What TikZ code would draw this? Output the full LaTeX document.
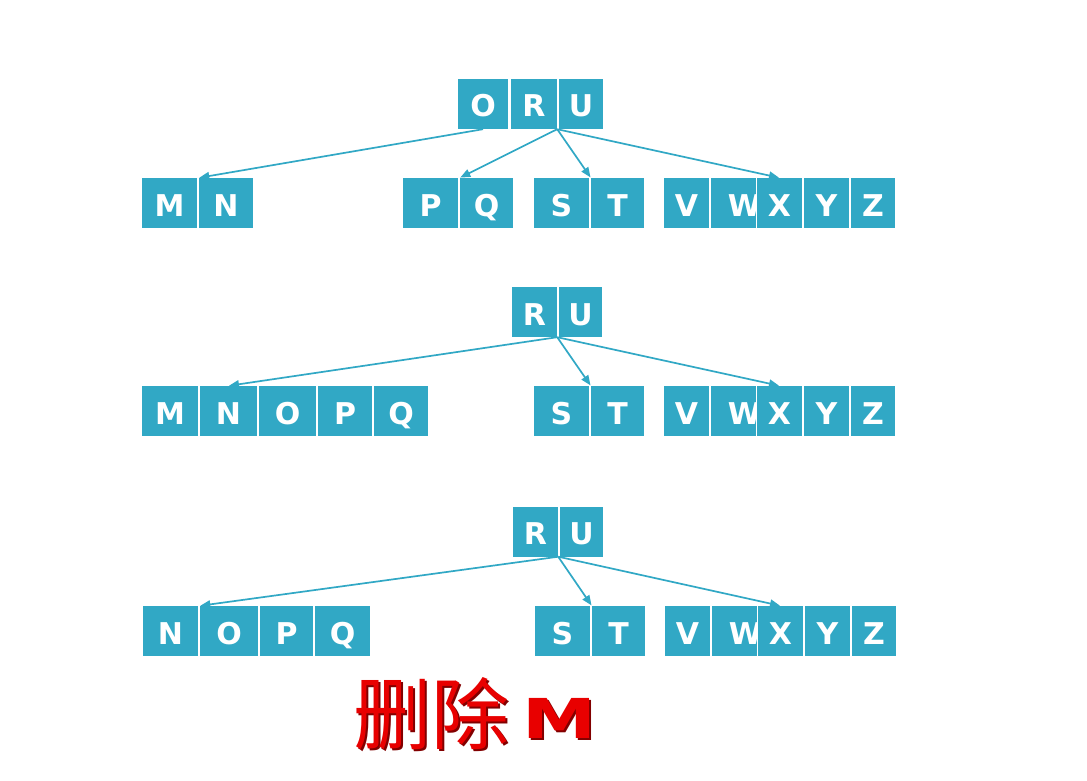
\documentclass[tikz,border=0pt]{standalone}
\usepackage{fontspec}
\usetikzlibrary{arrows.meta}
\newfontfamily\cellfont{DejaVu Sans}
\newfontfamily\cjk{Noto Sans CJK SC}
\definecolor{cellblue}{RGB}{49,168,197}
\definecolor{capred}{RGB}{232,0,0}
\definecolor{capshade}{RGB}{130,0,0}
% one key cell: name, centre x, centre y, width, letter
\newcommand\mkcell[5]{\node[cell, minimum width=#4pt] (#1) at (#2,#3) {#5};}
% W is set wide and slips under the X cell drawn after it
\newcommand\wideW{\makebox[0pt]{\hspace*{22pt}W}}
\begin{document}
\begin{tikzpicture}[x=1pt,y=-1pt,
  cell/.style={fill=cellblue, inner sep=0pt, minimum height=50pt, text=white,
    font=\cellfont\bfseries\fontsize{30}{30}\selectfont, text height=26pt, text depth=0pt},
  link/.style={draw=cellblue, line width=1.7pt, shorten >=0.5pt,
    -{Triangle[length=10pt,width=8pt]}},
  caption/.style={inner sep=0pt, anchor=center}]
\fill[white] (0,0) rectangle (1087,781);
\useasboundingbox (0,0) rectangle (1087,781);

% ---- tree before the deletion ----
\mkcell{aO}{483}{104}{50}{O}
\mkcell{aR}{534}{104}{46}{R}
\mkcell{aU}{581}{104}{44}{U}
\mkcell{aM}{169.5}{203}{55}{M}
\mkcell{aN}{226}{203}{54}{N}
\mkcell{aP}{430.5}{203}{55}{P}
\mkcell{aQ}{486.5}{203}{53}{Q}
\mkcell{aS}{561.5}{203}{55}{S}
\mkcell{aT}{617.5}{203}{53}{T}
\mkcell{aV}{686.5}{203}{45}{V}
\mkcell{aW}{733.5}{203}{45}{\wideW}
\mkcell{aX}{779.5}{203}{45}{X}
\mkcell{aY}{826.5}{203}{45}{Y}
\mkcell{aZ}{873}{203}{44}{Z}
\draw[link] (aO.south) -- (aN.north west);
\draw[link] (aR.south east) -- (aQ.north west);
\draw[link] (aR.south east) -- (aT.north west);
\draw[link] (aR.south east) -- (aX.north);

% ---- after borrowing: MN merged with O and PQ ----
\mkcell{bR}{534.5}{312}{45}{R}
\mkcell{bU}{580.5}{312}{43}{U}
\mkcell{bM}{170}{411}{56}{M}
\mkcell{bN}{228.5}{411}{57}{N}
\mkcell{bO}{287.5}{411}{57}{O}
\mkcell{bP}{345}{411}{54}{P}
\mkcell{bQ}{401}{411}{54}{Q}
\mkcell{bS}{561.5}{411}{55}{S}
\mkcell{bT}{617.5}{411}{53}{T}
\mkcell{bV}{686.5}{411}{45}{V}
\mkcell{bW}{733.5}{411}{45}{\wideW}
\mkcell{bX}{779.5}{411}{45}{X}
\mkcell{bY}{826.5}{411}{45}{Y}
\mkcell{bZ}{873}{411}{44}{Z}
\draw[link] (bR.south east) -- (bN.north);
\draw[link] (bR.south east) -- (bT.north west);
\draw[link] (bR.south east) -- (bX.north);

% ---- after removing M ----
\mkcell{cR}{535.5}{531.5}{45}{R}
\mkcell{cU}{581.5}{531.5}{43}{U}
\mkcell{cN}{170.5}{631}{55}{N}
\mkcell{cO}{229}{631}{58}{O}
\mkcell{cP}{286.5}{631}{53}{P}
\mkcell{cQ}{342.5}{631}{55}{Q}
\mkcell{cS}{562.5}{631}{55}{S}
\mkcell{cT}{618.5}{631}{53}{T}
\mkcell{cV}{687.5}{631}{45}{V}
\mkcell{cW}{734.5}{631}{45}{\wideW}
\mkcell{cX}{780.5}{631}{45}{X}
\mkcell{cY}{827.5}{631}{45}{Y}
\mkcell{cZ}{874}{631}{44}{Z}
\draw[link] (cR.south east) -- (cO.north west);
\draw[link] (cR.south east) -- (cT.north west);
\draw[link] (cR.south east) -- (cX.north);

% ---- caption with a dark shadow behind the red ----
\node[caption, text=capshade, font=\cjk\fontsize{78}{78}\selectfont] at (433,716) {删除};
\node[caption, text=capred, font=\cjk\fontsize{78}{78}\selectfont] (capcn) at (431,714) {删除};
\node[caption, text=capshade, xscale=1.35, font=\cellfont\bfseries\fontsize{55}{55}\selectfont] at (561,720) {M};
\node[caption, text=capred, xscale=1.35, font=\cellfont\bfseries\fontsize{55}{55}\selectfont] (capm) at (559,718) {M};
\end{tikzpicture}
\end{document}
